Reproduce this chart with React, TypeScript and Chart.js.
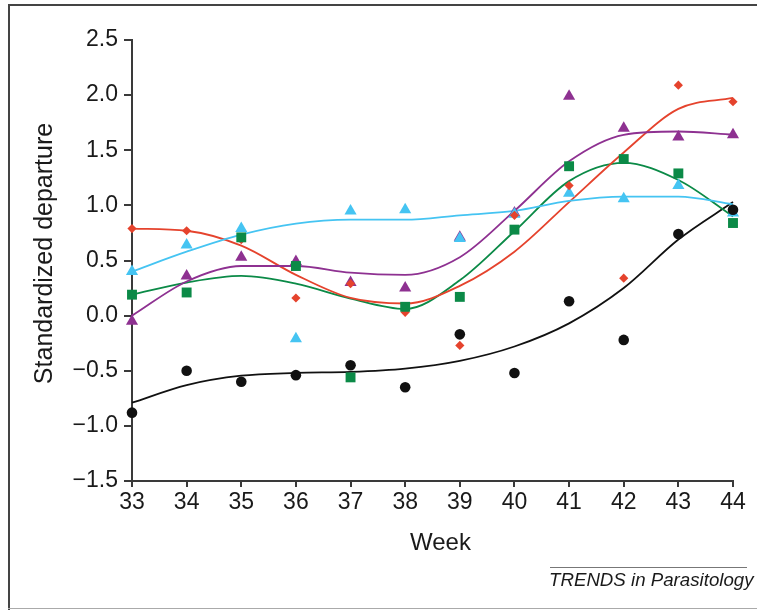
import React, { useEffect, useRef } from "react";
import { Chart, registerables } from "chart.js";

Chart.register(...registerables);

// ---- data ----
const weeks = [33, 34, 35, 36, 37, 38, 39, 40, 41, 42, 43, 44];

// observed points
const blackPts = [-0.88, -0.5, -0.6, -0.54, -0.45, -0.65, -0.17, -0.52, 0.13, -0.22, 0.74, 0.96];
const redPts = [0.79, 0.77, 0.69, 0.16, 0.29, 0.03, -0.27, 0.91, 1.18, 0.34, 2.09, 1.94];
const cyanPts = [0.4, 0.64, 0.79, -0.21, 0.95, 0.96, 0.7, 0.92, 1.11, 1.06, 1.18, 0.93];
const greenPts = [0.19, 0.21, 0.71, 0.45, -0.56, 0.08, 0.17, 0.78, 1.355, 1.42, 1.29, 0.84];
const purplePts = [-0.05, 0.36, 0.53, 0.49, 0.3, 0.25, 0.71, 0.93, 1.99, 1.7, 1.62, 1.64];

// smoothed curves (read at each week)
const blackFit = [-0.79, -0.63, -0.545, -0.52, -0.51, -0.48, -0.41, -0.28, -0.07, 0.25, 0.69, 1.03];
const redFit = [0.79, 0.77, 0.635, 0.37, 0.16, 0.11, 0.27, 0.58, 1.03, 1.48, 1.875, 1.975];
const cyanFit = [0.4, 0.58, 0.735, 0.835, 0.87, 0.87, 0.91, 0.95, 1.04, 1.08, 1.08, 1.01];
const greenFit = [0.19, 0.3, 0.36, 0.29, 0.155, 0.06, 0.32, 0.765, 1.22, 1.385, 1.23, 0.9];
const purpleFit = [0.0, 0.31, 0.45, 0.45, 0.39, 0.37, 0.53, 0.95, 1.4, 1.64, 1.67, 1.64];

const yTitle = "Standardized departure";
const xTitle = "Week";
const footer = "TRENDS in Parasitology";

const BLACK = "#111111";
const RED = "#e5432d";
const CYAN = "#45c4f2";
const GREEN = "#0b8a47";
const PURPLE = "#8e3191";
const AXIS = "#3a3a3a";
const TEXT = "#1a1a1a";
const FONT = '"Liberation Sans", Arial, Helvetica, sans-serif';

const pairs = (ys: number[]) => weeks.map((w, i) => ({ x: w, y: ys[i] }));

const titlePlugin = {
  id: "customTitles",
  afterDraw(chart: any) {
    const { ctx, chartArea } = chart;
    ctx.save();
    ctx.fillStyle = TEXT;
    ctx.textAlign = "center";
    ctx.textBaseline = "alphabetic";
    ctx.font = `25px ${FONT}`;
    ctx.save();
    ctx.translate(52, (chartArea.top + chartArea.bottom) / 2 - 7);
    ctx.rotate(-Math.PI / 2);
    ctx.fillText(yTitle, 0, 0);
    ctx.restore();
    ctx.font = `24px ${FONT}`;
    ctx.fillText(xTitle, (chartArea.left + chartArea.right) / 2 + 8, 550);
    ctx.restore();
  },
};

export default function App() {
  const ref = useRef<HTMLCanvasElement | null>(null);

  useEffect(() => {
    if (!ref.current) return;
    const pointDs = (label: string, ys: number[], color: string, style: any, radius: number, order: number) => ({
      label,
      data: pairs(ys),
      showLine: false,
      pointStyle: style,
      pointRadius: radius,
      pointHoverRadius: radius,
      pointBackgroundColor: color,
      pointBorderColor: color,
      pointBorderWidth: 0,
      backgroundColor: color,
      borderColor: color,
      clip: false,
      order,
    });
    const lineDs = (label: string, ys: number[], color: string, order: number) => ({
      label,
      data: pairs(ys),
      showLine: true,
      borderColor: color,
      backgroundColor: color,
      borderWidth: 1.8,
      pointRadius: 0,
      pointHoverRadius: 0,
      cubicInterpolationMode: "monotone",
      fill: false,
      clip: false,
      order,
    });

    const chart = new Chart(ref.current, {
      type: "scatter",
      data: {
        datasets: [
          lineDs("purple fit", purpleFit, PURPLE, 20),
          lineDs("cyan fit", cyanFit, CYAN, 21),
          lineDs("red fit", redFit, RED, 22),
          lineDs("green fit", greenFit, GREEN, 23),
          lineDs("black fit", blackFit, BLACK, 24),
          pointDs("purple", purplePts, PURPLE, "triangle", 7, 5),
          pointDs("cyan", cyanPts, CYAN, "triangle", 7, 4),
          pointDs("red", redPts, RED, "rectRot", 4.6, 3),
          pointDs("green", greenPts, GREEN, "rect", 7, 2),
          pointDs("black", blackPts, BLACK, "circle", 5.3, 1),
        ] as any,
      },
      options: {
        animation: false,
        responsive: false,
        maintainAspectRatio: false,
        devicePixelRatio: 1,
        layout: { padding: { left: 0, top: 40, right: 24, bottom: 0 } },
        plugins: {
          legend: { display: false },
          tooltip: { enabled: false },
          title: { display: false },
        },
        scales: {
          x: {
            type: "linear",
            min: 33,
            max: 44,
            afterFit: (s: any) => {
              s.height = 129;
            },
            ticks: {
              stepSize: 1,
              color: TEXT,
              font: { family: FONT, size: 23 },
              padding: 2,
              callback: (v: any) => String(v),
            },
            grid: {
              display: true,
              drawOnChartArea: false,
              drawTicks: true,
              tickLength: 6,
              color: AXIS,
              lineWidth: 2,
            },
            border: { display: true, color: AXIS, width: 2 },
          },
          y: {
            type: "linear",
            min: -1.5,
            max: 2.5,
            afterFit: (s: any) => {
              s.width = 132;
            },
            ticks: {
              stepSize: 0.5,
              color: TEXT,
              font: { family: FONT, size: 23 },
              padding: 6,
              callback: (v: any) => {
                const n = Number(v);
                const s = Math.abs(n).toFixed(1);
                return n < 0 ? "\u2212" + s : s;
              },
            },
            grid: {
              display: true,
              drawOnChartArea: false,
              drawTicks: true,
              tickLength: 8,
              color: AXIS,
              lineWidth: 2,
            },
            border: { display: true, color: AXIS, width: 2 },
          },
        },
      } as any,
      plugins: [titlePlugin],
    });
    return () => chart.destroy();
  }, []);

  return (
    <div>
      <canvas
        ref={ref}
        width={757}
        height={610}
        style={{ position: "fixed", left: 0, top: 0, width: 757, height: 610 }}
      />
      <div style={{ position: "fixed", left: 8, top: 4, width: 2, height: 606, background: "#444" }} />
      <div style={{ position: "fixed", left: 8, top: 4, width: 749, height: 2, background: "#444" }} />
      <div style={{ position: "fixed", left: 8, top: 608, width: 749, height: 1, background: "#aaa" }} />
      <div style={{ position: "fixed", left: 550, top: 567, width: 197, height: 1, background: "#777" }} />
      <div
        style={{
          position: "fixed",
          left: 549,
          top: 571,
          fontFamily: FONT,
          fontStyle: "italic",
          fontSize: 18.7,
          lineHeight: "18px",
          color: TEXT,
          whiteSpace: "nowrap",
        }}
      >
        {footer}
      </div>
    </div>
  );
}
